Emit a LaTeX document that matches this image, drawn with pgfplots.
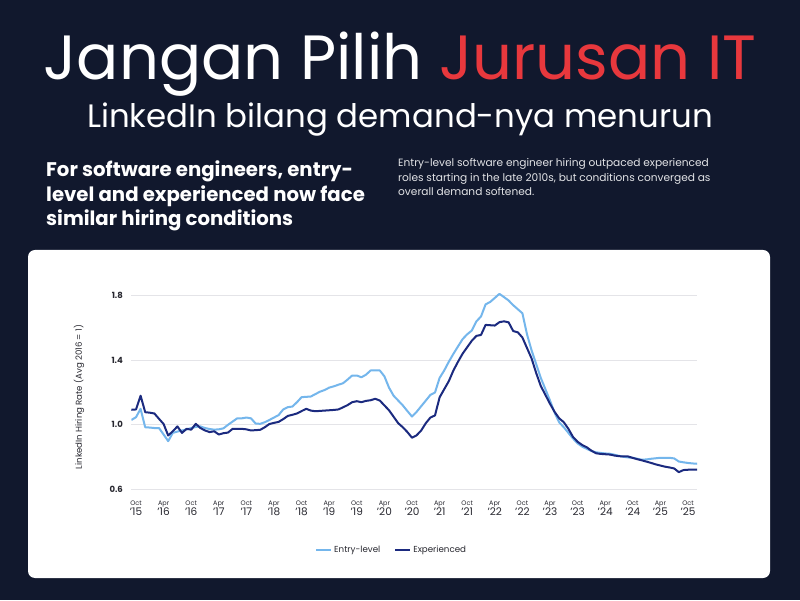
\documentclass[border=0pt]{standalone}
\usepackage{pgfplots}
\pgfplotsset{compat=1.18}
\usepackage{fontspec}
\setmainfont{Poppins}

\definecolor{bgnavy}{RGB}{17,24,45}
\definecolor{titlered}{RGB}{232,56,61}
\definecolor{entry}{RGB}{116,182,236}
\definecolor{exper}{RGB}{27,42,127}
\definecolor{gridgray}{RGB}{228,228,232}
\definecolor{labgray}{RGB}{40,40,48}

\newcommand{\tl}[2]{{\fontsize{6.5}{7}\selectfont #1}\\[-2pt]{\fontsize{10.5}{11}\selectfont '#2}}

\begin{document}
\begin{tikzpicture}
\fill[bgnavy] (0pt,0pt) rectangle (800pt,600pt);
\useasboundingbox (0pt,0pt) rectangle (800pt,600pt);
\fill[white, rounded corners=7pt] (28pt,22pt) rectangle (770pt,350pt);

% headings
\node[anchor=base, font=\fontsize{62.5}{64}\selectfont, inner sep=0] at (400pt,520pt)
  {\textcolor{white}{Jangan Pilih} \textcolor{titlered}{Jurusan IT}};
\node[anchor=base, font=\fontsize{32.4}{34}\selectfont, text=white, inner sep=0] at (400pt,472pt)
  {LinkedIn bilang demand-nya menurun};

\node[anchor=base west, font=\fontsize{19.7}{20}\bfseries, text=white, inner sep=0] at (46pt,423pt) {For software engineers, entry-};
\node[anchor=base west, font=\fontsize{19.7}{20}\bfseries, text=white, inner sep=0] at (46pt,398pt) {level and experienced now face};
\node[anchor=base west, font=\fontsize{19.7}{20}\bfseries, text=white, inner sep=0] at (46pt,374pt) {similar hiring conditions};

\node[anchor=base west, font=\fontsize{10.6}{11}\selectfont, text=white!88!bgnavy, inner sep=0] at (398pt,433pt) {Entry-level software engineer hiring outpaced experienced};
\node[anchor=base west, font=\fontsize{10.6}{11}\selectfont, text=white!88!bgnavy, inner sep=0] at (398pt,418pt) {roles starting in the late 2010s, but conditions converged as};
\node[anchor=base west, font=\fontsize{10.6}{11}\selectfont, text=white!88!bgnavy, inner sep=0] at (398pt,404pt) {overall demand softened.};

\node[rotate=90, font=\fontsize{8.6}{9}\selectfont, text=labgray] at (79pt,203pt) {LinkedIn Hiring Rate (Avg 2016 = 1)};

\begin{axis}[
  at={(131.4pt,107.3pt)}, anchor=south west,
  scale only axis, width=565.8pt, height=205.3pt,
  xmin=-1, xmax=122, ymin=0.58, ymax=1.85,
  axis line style={draw=none},
  major tick length=0pt,
  ymajorgrids=true,
  grid style={gridgray, line width=0.7pt},
  ytick={0.6,1.0,1.4,1.8},
  yticklabels={0.6,1.0,1.4,1.8},
  yticklabel style={font=\fontsize{8.5}{9}\bfseries, text=labgray, xshift=-5pt},
  xtick={0,6,...,120},
  xticklabels={\tl{Oct}{15},\tl{Apr}{16},\tl{Oct}{16},\tl{Apr}{17},\tl{Oct}{17},\tl{Apr}{18},\tl{Oct}{18},\tl{Apr}{19},\tl{Oct}{19},\tl{Apr}{20},\tl{Oct}{20},\tl{Apr}{21},\tl{Oct}{21},\tl{Apr}{22},\tl{Oct}{22},\tl{Apr}{23},\tl{Oct}{23},\tl{Apr}{24},\tl{Oct}{24},\tl{Apr}{25},\tl{Oct}{25}},
  xticklabel style={align=center, text=labgray, yshift=-5pt},
  legend style={at={(axis description cs:0.46,-0.278)}, anchor=center, draw=none,
    font=\fontsize{8.7}{9}\selectfont, text=labgray, legend columns=2,
    /tikz/every even column/.append style={column sep=12pt}},
  legend image code/.code={\draw[#1] (0pt,0pt) -- (15pt,0pt);},
  every axis plot/.append style={line width=2pt, line join=round},
]
\addplot[entry] coordinates {
(-1,1.03) (0,1.047) (1,1.099) (2,0.985) (3,0.983) (4,0.98) (5,0.98) (6,0.94) (7,0.899) (8,0.95)
(9,0.958) (10,0.965) (11,0.972) (12,0.98) (13,0.987) (14,0.99) (15,0.98) (16,0.974) (17,0.97) (18,0.972)
(19,0.978) (20,1.0) (21,1.02) (22,1.04) (23,1.04) (24,1.045) (25,1.04) (26,1.008) (27,1.006) (28,1.016)
(29,1.03) (30,1.045) (31,1.06) (32,1.095) (33,1.109) (34,1.113) (35,1.14) (36,1.171) (37,1.173) (38,1.175)
(39,1.19) (40,1.205) (41,1.215) (42,1.23) (43,1.238) (44,1.248) (45,1.257) (46,1.28) (47,1.305) (48,1.305)
(49,1.294) (50,1.31) (51,1.336) (52,1.336) (53,1.336) (54,1.30) (55,1.23) (56,1.18) (57,1.15) (58,1.12)
(59,1.085) (60,1.051) (61,1.08) (62,1.115) (63,1.15) (64,1.185) (65,1.2) (66,1.29) (67,1.336) (68,1.39)
(69,1.439) (70,1.485) (71,1.53) (72,1.56) (73,1.583) (74,1.64) (75,1.67) (76,1.745) (77,1.76) (78,1.785)
(79,1.81) (80,1.79) (81,1.769) (82,1.74) (83,1.715) (84,1.69) (85,1.56) (86,1.46) (87,1.375) (88,1.29)
(89,1.22) (90,1.15) (91,1.075) (92,1.015) (93,0.985) (94,0.95) (95,0.915) (96,0.885) (97,0.865) (98,0.851)
(99,0.838) (100,0.83) (101,0.826) (102,0.823) (103,0.821) (104,0.815) (105,0.808) (106,0.802) (107,0.798) (108,0.796)
(109,0.79) (110,0.784) (111,0.786) (112,0.79) (113,0.793) (114,0.796) (115,0.796) (116,0.796) (117,0.792) (118,0.773)
(119,0.768) (120,0.764) (121,0.761) (122,0.759)
};
\addlegendentry{Entry-level}
\addplot[exper] coordinates {
(-1,1.093) (0,1.095) (1,1.18) (2,1.078) (3,1.075) (4,1.07) (5,1.037) (6,1.005) (7,0.934) (8,0.96)
(9,0.99) (10,0.95) (11,0.975) (12,0.97) (13,1.006) (14,0.98) (15,0.965) (16,0.955) (17,0.96) (18,0.94)
(19,0.948) (20,0.952) (21,0.975) (22,0.975) (23,0.975) (24,0.972) (25,0.965) (26,0.967) (27,0.969) (28,0.985)
(29,1.005) (30,1.012) (31,1.018) (32,1.035) (33,1.055) (34,1.062) (35,1.07) (36,1.085) (37,1.099) (38,1.088)
(39,1.084) (40,1.086) (41,1.088) (42,1.09) (43,1.092) (44,1.095) (45,1.108) (46,1.122) (47,1.14) (48,1.146)
(49,1.14) (50,1.148) (51,1.152) (52,1.161) (53,1.15) (54,1.12) (55,1.09) (56,1.05) (57,1.01) (58,0.985)
(59,0.955) (60,0.92) (61,0.935) (62,0.965) (63,1.01) (64,1.045) (65,1.058) (66,1.17) (67,1.22) (68,1.27)
(69,1.336) (70,1.39) (71,1.44) (72,1.48) (73,1.52) (74,1.55) (75,1.556) (76,1.618) (77,1.616) (78,1.614)
(79,1.635) (80,1.64) (81,1.634) (82,1.58) (83,1.572) (84,1.54) (85,1.475) (86,1.41) (87,1.32) (88,1.24)
(89,1.185) (90,1.13) (91,1.08) (92,1.04) (93,1.016) (94,0.975) (95,0.925) (96,0.895) (97,0.875) (98,0.861)
(99,0.84) (100,0.824) (101,0.82) (102,0.818) (103,0.816) (104,0.81) (105,0.806) (106,0.804) (107,0.804) (108,0.795)
(109,0.787) (110,0.78) (111,0.772) (112,0.764) (113,0.755) (114,0.748) (115,0.741) (116,0.736) (117,0.73) (118,0.707)
(119,0.72) (120,0.722) (121,0.722) (122,0.722)
};
\addlegendentry{Experienced}
\end{axis}
\end{tikzpicture}
\end{document}
